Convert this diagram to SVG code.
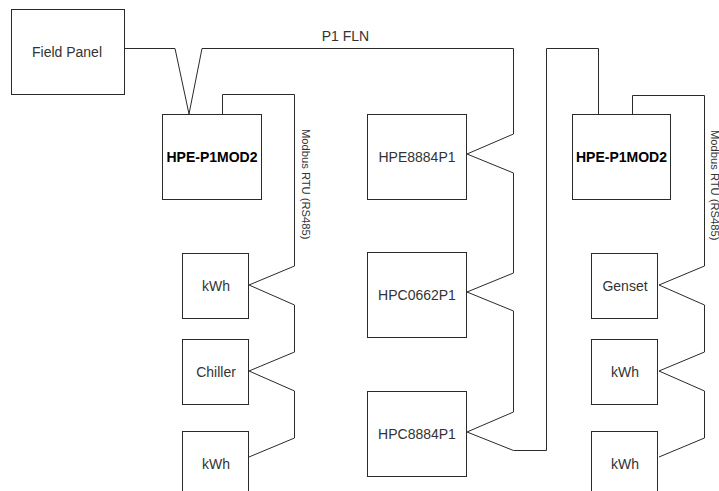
<svg xmlns="http://www.w3.org/2000/svg" width="719" height="491" viewBox="0 0 719 491">
<style>
.box{fill:#fff;stroke:#2a2a2a;stroke-width:1}
.t{font-family:"Liberation Sans",Arial,sans-serif;font-size:14px;fill:#333;text-anchor:middle}
.b{font-weight:bold;fill:#000}
.m{font-family:"Liberation Sans",Arial,sans-serif;font-size:11.2px;fill:#333}
.w{fill:none;stroke:#2a2a2a;stroke-width:1}
</style>
<rect width="719" height="491" fill="#fff"/>
<g id="connectors">
<polyline class="w" points="124.5,48.5 175,48.5 189,114"/>
<polyline class="w" points="189,114 202,48.5 513.5,48.5 513.5,134 467,154 513.5,173 513.5,273 467,292 513.5,311 513.5,412 467,432 513.5,450.5 546.5,450.5 546.5,48.5 598.5,48.5 598.5,114"/>
<polyline class="w" points="222.5,114 222.5,94.5 294.5,94.5 294.5,266 249,285 294.5,305 294.5,352 249,371 294.5,391 294.5,438 249,457"/>
<polyline class="w" points="632.5,114 632.5,95.5 704.5,95.5 704.5,266 659,285 704.5,305 704.5,352 659,371 704.5,391 704.5,438 659,457"/>
<text class="t" x="345.5" y="41">P1 FLN</text>
<text class="m" transform="translate(302,129) rotate(90)">Modbus RTU (RS485)</text>
<text class="m" transform="translate(711,130) rotate(90)">Modbus RTU (RS485)</text>
</g>
<g id="field-panel"><rect class="box" x="11.5" y="9.5" width="113" height="85"/><text class="t" x="67" y="57">Field Panel</text></g>
<g id="hpe-p1mod2-left"><rect class="box" x="162.5" y="114.5" width="99" height="85"/><text class="t b" x="212" y="162">HPE-P1MOD2</text></g>
<g id="kwh-left-1"><rect class="box" x="182.5" y="253.5" width="66" height="65"/><text class="t" x="216" y="291">kWh</text></g>
<g id="chiller"><rect class="box" x="182.5" y="339.5" width="66" height="65"/><text class="t" x="216" y="377">Chiller</text></g>
<g id="kwh-left-2"><rect class="box" x="182.5" y="431.5" width="66" height="80"/><text class="t" x="216" y="469">kWh</text></g>
<g id="hpe8884p1"><rect class="box" x="367.5" y="114.5" width="99" height="85"/><text class="t" x="417" y="162">HPE8884P1</text></g>
<g id="hpc0662p1"><rect class="box" x="367.5" y="252.5" width="99" height="85"/><text class="t" x="417" y="300">HPC0662P1</text></g>
<g id="hpc8884p1"><rect class="box" x="367.5" y="391.5" width="99" height="85"/><text class="t" x="417" y="439">HPC8884P1</text></g>
<g id="hpe-p1mod2-right"><rect class="box" x="572.5" y="114.5" width="98" height="85"/><text class="t b" x="621.5" y="162">HPE-P1MOD2</text></g>
<g id="genset"><rect class="box" x="591.5" y="253.5" width="66" height="65"/><text class="t" x="625" y="291">Genset</text></g>
<g id="kwh-right-1"><rect class="box" x="591.5" y="339.5" width="66" height="65"/><text class="t" x="625" y="377">kWh</text></g>
<g id="kwh-right-2"><rect class="box" x="591.5" y="431.5" width="66" height="80"/><text class="t" x="625" y="469">kWh</text></g>
</svg>
